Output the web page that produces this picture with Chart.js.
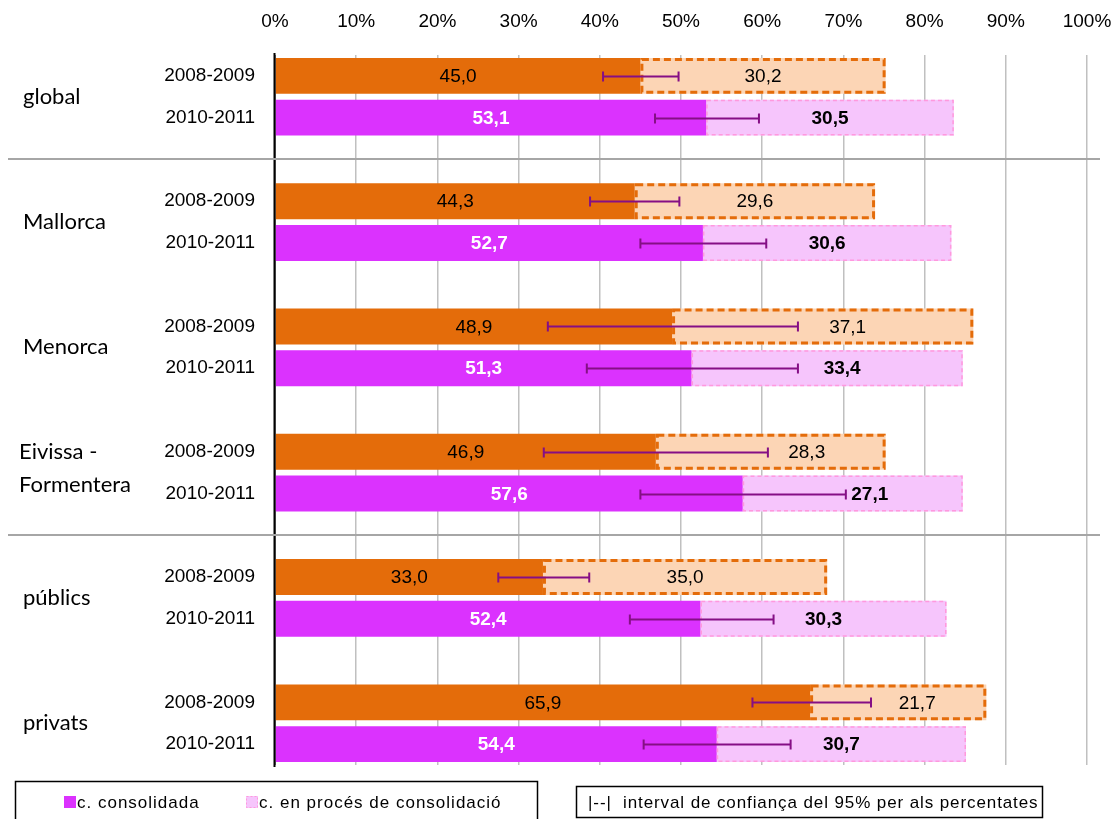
<!DOCTYPE html>
<html><head><meta charset="utf-8">
<script src="https://cdn.jsdelivr.net/npm/chart.js@4"></script>
<style>html,body{margin:0;padding:0;background:#fff;} #wrap{width:1118px;height:819px;position:relative;}</style>
</head><body><div id="wrap"><canvas id="c" width="1118" height="819"></canvas></div>
<script>
const groups = ['global', 'Mallorca', 'Menorca', 'Eivissa -\nFormentera', 'públics', 'privats'];
const periods = ['2008-2009', '2010-2011'];
const cons2008 = [45.0, 44.3, 48.9, 46.9, 33.0, 65.9];
const proc2008 = [30.2, 29.6, 37.1, 28.3, 35.0, 21.7];
const cons2010 = [53.1, 52.7, 51.3, 57.6, 52.4, 54.4];
const proc2010 = [30.5, 30.6, 33.4, 27.1, 30.3, 30.7];
const ciLow2008 = [40.4, 38.8, 33.6, 33.1, 27.5, 58.8];
const ciHigh2008 = [49.7, 49.8, 64.4, 60.7, 38.7, 73.4];
const ciLow2010 = [46.8, 45.0, 38.4, 45.0, 43.7, 45.4];
const ciHigh2010 = [59.6, 60.5, 64.4, 70.3, 61.4, 63.5];
const separatorGroups = [0, 3];
const legendLabels = ['c. consolidada', 'c. en procés de consolidació'];
const ciLegend = '|--|  interval de confiança del 95% per als percentates';

// label nudges (px) for in-process labels moved off the error bars, per group
const nudge2008 = [0, 0, 25, 36, 0, 19];
const nudge2010 = [0, 0, 15, 17, 0, 0];

const FONT = '"Liberation Sans", Arial, sans-serif';
const C_ORANGE = '#E46C0A', C_PEACH = '#FCD5B5', C_MAG = '#DB32FE', C_PINK = '#F6C5FC', C_PINKB = '#FF99DD', C_ERR = '#850F85';

// build slots
const slots = [];
groups.forEach((g, gi) => {
  slots.push({g: gi, p: 0, cons: cons2008[gi], proc: proc2008[gi], lo: ciLow2008[gi], hi: ciHigh2008[gi], dx: nudge2008[gi]});
  slots.push({g: gi, p: 1, cons: cons2010[gi], proc: proc2010[gi], lo: ciLow2010[gi], hi: ciHigh2010[gi], dx: nudge2010[gi]});
  if (gi < groups.length - 1) slots.push(null);
});
const labels = slots.map(s => s ? periods[s.p] : '');
const fmt = v => v.toFixed(1).replace('.', ',');

const overlay = {
  id: 'overlay',
  afterDatasetsDraw(chart) {
    const ctx = chart.ctx, xs = chart.scales.x, ys = chart.scales.y, ca = chart.chartArea;
    const m0 = chart.getDatasetMeta(0), m1 = chart.getDatasetMeta(1);
    ctx.save();
    // dashed borders of in-process segments
    slots.forEach((s, i) => {
      if (!s) return;
      const el = m1.data[i];
      const h = el.height, x0 = el.base, x1 = el.x, yT = el.y - h / 2;
      ctx.beginPath();
      if (s.p === 0) { ctx.strokeStyle = C_ORANGE; ctx.lineWidth = 3; ctx.setLineDash([7, 4]); }
      else { ctx.strokeStyle = C_PINKB; ctx.lineWidth = 1.5; ctx.setLineDash([4, 3]); }
      ctx.strokeRect(x0 + ctx.lineWidth / 2, yT + ctx.lineWidth / 2, x1 - x0 - ctx.lineWidth, h - ctx.lineWidth);
    });
    ctx.setLineDash([]);
    // axis line at 0
    const x0p = Math.round(xs.getPixelForValue(0)) - 0.5;
    ctx.strokeStyle = '#000'; ctx.lineWidth = 2;
    ctx.beginPath(); ctx.moveTo(x0p, ca.top - 2); ctx.lineTo(x0p, ca.bottom + 2); ctx.stroke();
    // value labels
    ctx.textAlign = 'center'; ctx.textBaseline = 'middle';
    slots.forEach((s, i) => {
      if (!s) return;
      const e0 = m0.data[i], e1 = m1.data[i];
      if (s.p === 0) { ctx.font = '19px ' + FONT; ctx.fillStyle = '#000'; }
      else { ctx.font = 'bold 19px ' + FONT; ctx.fillStyle = '#fff'; }
      ctx.fillText(fmt(s.cons), (e0.x + e0.base) / 2, e0.y + 1);
      ctx.fillStyle = '#000';
      ctx.fillText(fmt(s.proc), (e1.x + e1.base) / 2 + s.dx, e1.y + 1);
    });
    // error bars
    ctx.strokeStyle = C_ERR; ctx.lineWidth = 2;
    slots.forEach((s, i) => {
      if (!s) return;
      const y = Math.round(m0.data[i].y) + 0.5;
      const a = xs.getPixelForValue(s.lo), b = xs.getPixelForValue(s.hi);
      ctx.beginPath();
      ctx.moveTo(a, y); ctx.lineTo(b, y);
      ctx.moveTo(a, y - 5); ctx.lineTo(a, y + 5);
      ctx.moveTo(b, y - 5); ctx.lineTo(b, y + 5);
      ctx.stroke();
    });
    ctx.restore();
  },
  afterDraw(chart) {
    const ctx = chart.ctx, ys = chart.scales.y, ca = chart.chartArea;
    ctx.save();
    // period labels
    ctx.fillStyle = '#000'; ctx.textAlign = 'right'; ctx.textBaseline = 'middle';
    ctx.font = '19px ' + FONT;
    slots.forEach((s, i) => { if (s) ctx.fillText(periods[s.p], 255, ys.getPixelForValue(i)); });
    // group labels
    ctx.textAlign = 'left'; ctx.font = '22px Lato, "Open Sans", sans-serif';
    groups.forEach((g, gi) => {
      const i0 = slots.findIndex(s => s && s.g === gi && s.p === 0);
      const yc = (ys.getPixelForValue(i0) + ys.getPixelForValue(i0 + 1)) / 2;
      const lines = g.split('\n');
      const lh = 33;
      lines.forEach((ln, k) => {
        const y = yc + (k - (lines.length - 1) / 2) * lh - (lines.length > 1 ? 4 : 0);
        ctx.fillText(ln, lines.length > 1 ? 19 : 23, y);
      });
    });
    // separators
    ctx.strokeStyle = '#A6A6A6'; ctx.lineWidth = 2;
    separatorGroups.forEach(gi => {
      const i0 = slots.findIndex(s => s && s.g === gi && s.p === 1) + 1;
      const y = Math.round(ys.getPixelForValue(i0));
      ctx.beginPath(); ctx.moveTo(8, y); ctx.lineTo(1100, y); ctx.stroke();
    });
    // legend boxes
    ctx.strokeStyle = '#000'; ctx.lineWidth = 1.5;
    ctx.strokeRect(15.5, 781.5, 522, 40);
    ctx.strokeRect(576.5, 786.5, 466, 31);
    ctx.fillStyle = C_MAG; ctx.fillRect(64, 796, 12, 12);
    ctx.fillStyle = C_PINK; ctx.fillRect(246, 796, 12, 12);
    ctx.strokeStyle = C_PINKB; ctx.lineWidth = 1; ctx.setLineDash([2, 2]);
    ctx.strokeRect(246.5, 796.5, 11, 11); ctx.setLineDash([]);
    ctx.fillStyle = '#000'; ctx.textAlign = 'left'; ctx.textBaseline = 'middle';
    ctx.font = '17px ' + FONT;
    ctx.letterSpacing = '1px';
    ctx.fillText(legendLabels[0], 77, 803);
    ctx.fillText(legendLabels[1], 259, 803);
    ctx.letterSpacing = '0.9px';
    ctx.fillText(ciLegend, 588, 803);
    ctx.restore();
  }
};

new Chart(document.getElementById('c'), {
  type: 'bar',
  data: {
    labels: labels,
    datasets: [
      { label: legendLabels[0], data: slots.map(s => s ? s.cons : null),
        backgroundColor: slots.map(s => s && s.p === 0 ? C_ORANGE : C_MAG), borderWidth: 0 },
      { label: legendLabels[1], data: slots.map(s => s ? s.proc : null),
        backgroundColor: slots.map(s => s && s.p === 0 ? C_PEACH : C_PINK), borderWidth: 0 }
    ]
  },
  options: {
    indexAxis: 'y',
    responsive: false,
    animation: false,
    categoryPercentage: 1,
    barPercentage: 0.86,
    layout: { padding: { left: 275, right: 31, top: 0, bottom: 54 } },
    plugins: { legend: { display: false }, tooltip: { enabled: false } },
    scales: {
      x: {
        type: 'linear', position: 'top', min: 0, max: 100, stacked: true,
        afterFit: s => { s.height = 55; s.paddingLeft = 0; s.paddingRight = 0; },
        ticks: { stepSize: 10, callback: v => v + '%', color: '#000', font: { family: FONT, size: 19 }, padding: 22 },
        grid: { drawTicks: false, color: c => c.tick && c.tick.value === 0 ? '#000' : '#C0C0C0', lineWidth: 1.5 },
        border: { display: false }
      },
      y: { type: 'category', stacked: true, display: false }
    }
  },
  plugins: [overlay]
});
</script></body></html>
